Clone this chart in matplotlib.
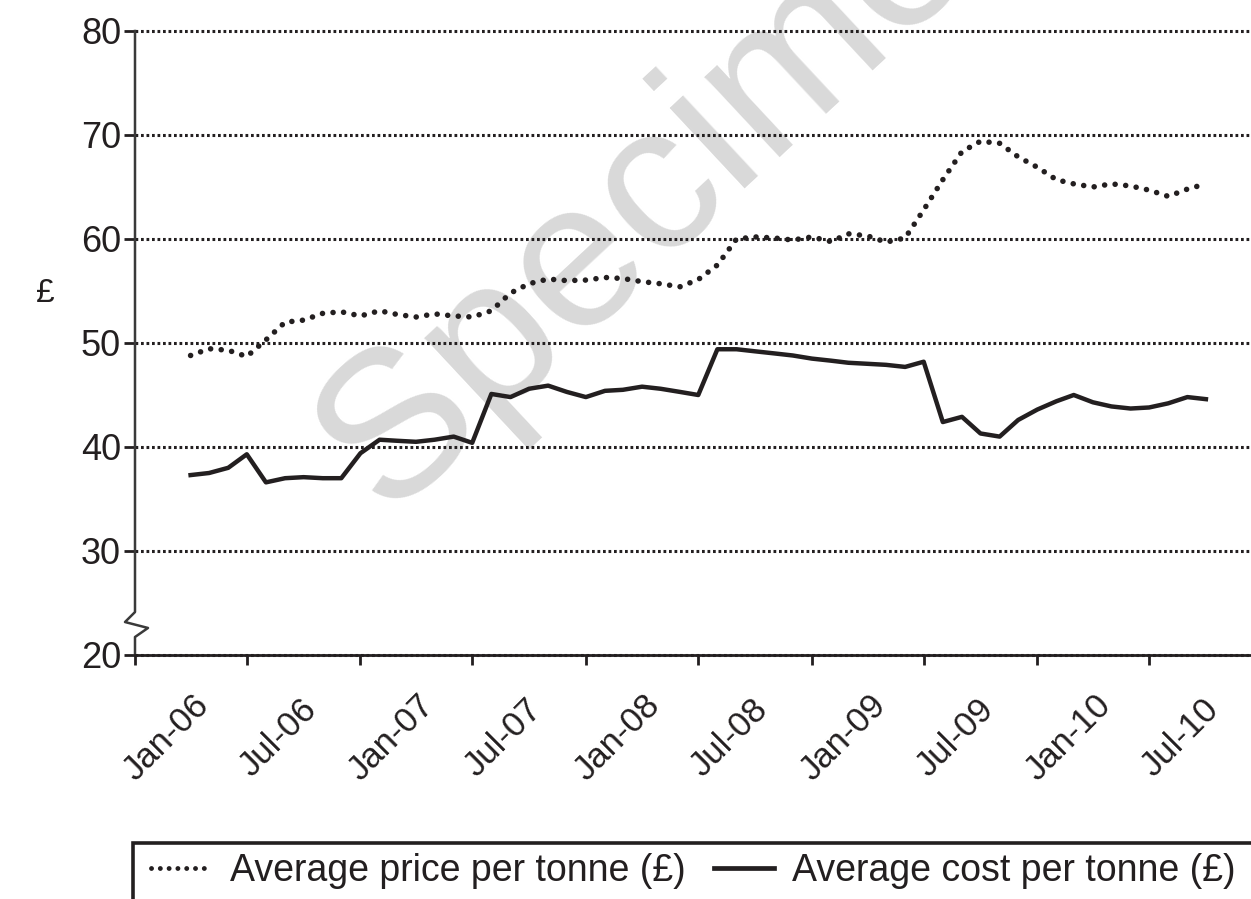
import numpy as np
import pandas as pd
import matplotlib
matplotlib.use("Agg")
import matplotlib.pyplot as plt
import matplotlib.transforms as mtransforms
from matplotlib.lines import Line2D
from matplotlib.patches import Rectangle

plt.rcParams['font.family'] = ['Liberation Sans', 'DejaVu Sans']

# monthly series, Apr-06 .. Oct-10
months = pd.date_range('2006-04-01', '2010-10-01', freq='MS')

avg_price = [48.8, 49.45, 49.3, 48.7, 50.3, 52.0, 52.2, 52.85, 53.0, 52.6,
             53.1, 52.75, 52.5, 52.8, 52.6, 52.5, 53.1, 54.8, 55.7, 56.15,
             56.0, 56.05, 56.3, 56.2, 55.9, 55.7, 55.4, 56.1, 57.5, 60.0,
             60.2, 60.1, 59.9, 60.2, 59.75, 60.5, 60.3, 59.7, 60.1, 62.8,
             65.7, 68.4, 69.4, 69.2, 67.9, 66.9, 65.7, 65.3, 65.0, 65.3,
             65.1, 64.7, 64.1, 64.8, 65.3]

avg_cost = [37.3, 37.5, 38.0, 39.3, 36.6, 37.0, 37.1, 37.0, 37.0, 39.4,
            40.7, 40.6, 40.5, 40.7, 41.0, 40.4, 45.1, 44.8, 45.6, 45.9,
            45.3, 44.8, 45.4, 45.5, 45.8, 45.6, 45.3, 45.0, 49.4, 49.4,
            49.2, 49.0, 48.8, 48.5, 48.3, 48.1, 48.0, 47.9, 47.7, 48.2,
            42.4, 42.9, 41.3, 41.0, 42.6, 43.6, 44.4, 45.0, 44.3, 43.9,
            43.7, 43.8, 44.2, 44.8, 44.6]

tick_dates = pd.date_range('2006-01-01', '2010-07-01', freq='6MS')
tick_labels = ['Jan-06', 'Jul-06', 'Jan-07', 'Jul-07', 'Jan-08',
               'Jul-08', 'Jan-09', 'Jul-09', 'Jan-10', 'Jul-10']
y_ticks = [20, 30, 40, 50, 60, 70, 80]

ink = '#231f20'
W, H = 1251, 899

fig = plt.figure(figsize=(W / 100, H / 100), dpi=100)
ax = fig.add_axes([135 / W, 1 - 655 / H, (W - 135) / W, (655 - 31) / H])

# watermark behind everything
ax.text(688 / W, 1 - 160 / H, 'Specimen', transform=fig.transFigure,
        fontsize=150, color='#d9d9d9', rotation=43, rotation_mode='anchor',
        ha='center', va='center', zorder=0)

ax.plot(months, avg_price, color=ink, lw=4, linestyle=(0, (0.01, 1.9)),
        dash_capstyle='round', zorder=3)
ax.plot(months, avg_cost, color=ink, lw=3.2, solid_joinstyle='round', zorder=3)

ax.set_ylim(20, 80)
ax.set_xlim(pd.Timestamp('2006-01-01'), pd.Timestamp('2010-12-13'))
ax.set_yticks(y_ticks)
ax.set_xticks(tick_dates)
ax.set_xticklabels(tick_labels)

ax.grid(axis='y', color=ink, lw=2.2, linestyle=(0, (0.9, 0.9)))
ax.set_axisbelow(True)
for gl in ax.get_ygridlines():
    gl.set_clip_on(False)

for s in ['top', 'right', 'left']:
    ax.spines[s].set_visible(False)
ax.spines['bottom'].set_linewidth(2)
ax.spines['bottom'].set_color(ink)
ax.spines['bottom'].set_zorder(4)

# left axis line with break mark
ytr = ax.get_yaxis_transform()
aw = W - 135
ax.plot([0, 0, -10 / aw, 13 / aw, 0, 0], [80, 24.13, 23.17, 22.6, 21.73, 20],
        color='#3a3a3a', lw=1.8, transform=ytr, clip_on=False, zorder=4)

ax.tick_params(axis='y', direction='out', length=8, width=2, color=ink,
               labelsize=26, labelcolor=ink, pad=2)
ax.tick_params(axis='x', direction='out', length=7.5, width=2, color=ink,
               labelsize=25, labelcolor=ink, pad=0)

offset = mtransforms.ScaledTranslation(0.31, -0.72, fig.dpi_scale_trans)
for lab in ax.get_xticklabels():
    lab.set_rotation(45)
    lab.set_rotation_mode('anchor')
    lab.set_ha('center')
    lab.set_va('center')
    lab.set_transform(lab.get_transform() + offset)

fig.text(45 / W, 1 - 293 / H, '£', ha='center', va='center', fontsize=24, color=ink)

# legend box (cut off at the right and bottom like the original)
fig.add_artist(Rectangle((133 / W, -0.2), 1.0, 0.2 + 1 - 843 / H,
                         transform=fig.transFigure, fill=False,
                         edgecolor=ink, lw=2.6))
handles = [Line2D([], [], color=ink, lw=3.5, linestyle=(0, (0.01, 1.8)),
                  dash_capstyle='round'),
           Line2D([], [], color=ink, lw=3.4)]
fig.legend(handles, ['Average price per tonne (£)', 'Average cost per tonne (£)'],
           loc='center left', bbox_to_anchor=(151 / W, 1 - 871 / H),
           ncol=2, frameon=False, fontsize=27, handlelength=1.6,
           handletextpad=0.5, columnspacing=0.75, borderpad=0, borderaxespad=0,
           labelcolor=ink)

fig.savefig('out.png', dpi=100)
